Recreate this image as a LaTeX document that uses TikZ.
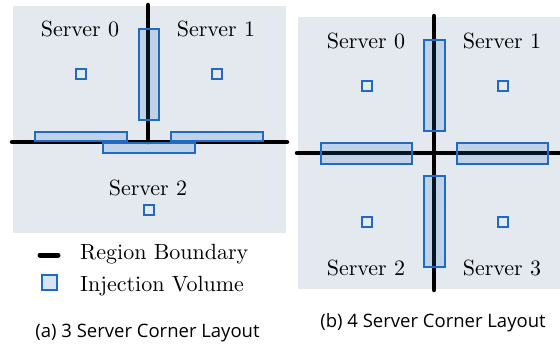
\documentclass[tikz,border=0pt]{standalone}
\usepackage{fontspec}
\usepackage{tikz}
\newfontfamily\srvfont{lmroman10-regular.otf}
\newfontfamily\capfont{Open Sans}
\definecolor{regionbg}{HTML}{E4E9F0}
\definecolor{injblue}{HTML}{1F6BC4}
\tikzset{
  region/.style={fill=regionbg, draw=none},
  bound/.style={line width=4.5pt, line cap=round},
  inject/.style={draw=injblue, line width=1.5pt, fill=injblue, fill opacity=0.18},
  probe/.style={draw=injblue, line width=1.5pt},
  srv/.style={font=\srvfont\fontsize{22}{26}\selectfont, inner sep=0pt},
  subcap/.style={font=\capfont\fontsize{18.5}{22}\selectfont, inner sep=0pt}
}

\begin{document}
\begin{tikzpicture}[x=1pt,y=-1pt]
             \useasboundingbox (000,000) rectangle (560,348);
             % (a) 3 server corner
             \fill[region] (013,006) rectangle (286,233);
             \draw[bound] (148,005) -- (148,142);
             \draw[bound] (012,142) -- (287,142);
             \draw[inject] (139,029) rectangle (159,120);
             \draw[inject] (035,132) rectangle (127,141);
             \draw[inject] (171,132) rectangle (263,141);
             \draw[inject] (103,143) rectangle (195,153);
             \draw[probe] (076,069) rectangle (086,079);
             \draw[probe] (212,069) rectangle (222,079);
             \draw[probe] (144,205) rectangle (154,215);
             \node[srv, anchor=base] (a0) at (080,036) {Server 0};
             \node[srv, anchor=base] (a1) at (216,036) {Server 1};
             \node[srv, anchor=base] (a2) at (148,195) {Server 2};
             % legend
             \draw[bound, line width=5pt] (040,255) -- (058,255);
             \draw[inject] (042,275) rectangle (057,290);
             \node[srv, anchor=base west] (lbound) at (080,259) {Region Boundary};
             \node[srv, anchor=base west] (linject) at (080,291) {Injection Volume};
             \node[subcap, anchor=base] (capa) at (147.5,337) {(a) 3 Server Corner Layout};
             % (b) 4 server corner
             \fill[region] (298,017) rectangle (560,289);
             \draw[bound] (434,016) -- (434,290);
             \draw[bound] (297,153) -- (562,153);
             \draw[inject] (424,040) rectangle (445,131);
             \draw[inject] (424,176) rectangle (445,267);
             \draw[inject] (321,143) rectangle (412,164);
             \draw[inject] (457,143) rectangle (548,164);
             \draw[probe] (362,081) rectangle (372,091);
             \draw[probe] (498,081) rectangle (508,091);
             \draw[probe] (362,217) rectangle (372,227);
             \draw[probe] (498,217) rectangle (508,227);
             \node[srv, anchor=base] (b0) at (366,048) {Server 0};
             \node[srv, anchor=base] (b1) at (502,048) {Server 1};
             \node[srv, anchor=base] (b2) at (366,275) {Server 2};
             \node[srv, anchor=base] (b3) at (502,275) {Server 3};
             \node[subcap, anchor=base] (capb) at (433,327) {(b) 4 Server Corner Layout};
         \end{tikzpicture}
\end{document}
